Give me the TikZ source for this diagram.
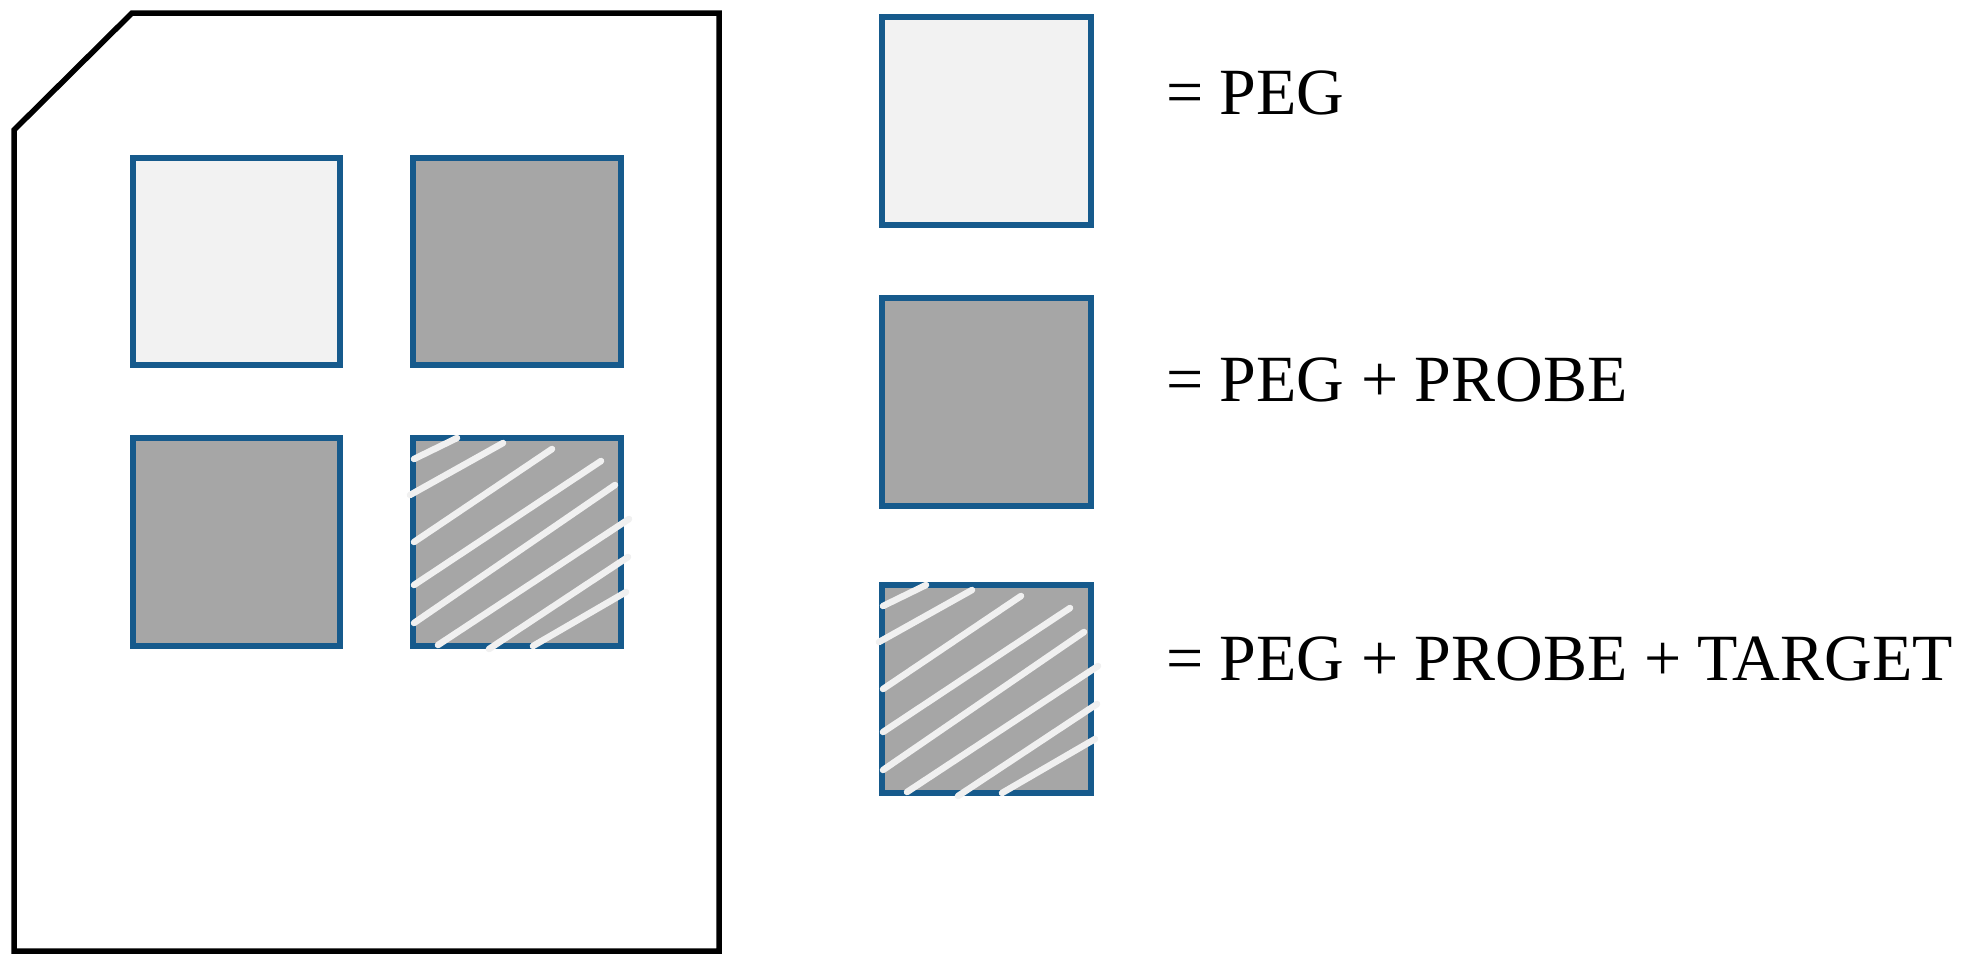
\documentclass[tikz,border=0pt]{standalone}
\usepackage{fontspec}
\setmainfont{Liberation Serif}
\definecolor{sqblue}{RGB}{22,90,140}
\definecolor{lightfill}{RGB}{242,242,242}
\definecolor{darkfill}{RGB}{166,166,166}
\definecolor{hatchcol}{RGB}{240,240,240}
\newcommand\myhatch[2]{%
  \begin{scope}[shift={(#1,#2)}]
    \draw[hatchline] (4,24)--(47,3);
    \draw[hatchline] (0,60)--(93,8);
    \draw[hatchline] (4,107)--(142,14);
    \draw[hatchline] (4,150)--(191,26);
    \draw[hatchline] (4,188)--(205,50);
    \draw[hatchline] (28,210)--(219,84);
    \draw[hatchline] (79,214)--(218,122);
    \draw[hatchline] (123,211)--(216,157);
  \end{scope}}
\begin{document}
\begin{tikzpicture}[x=1pt,y=-1pt,
  sq/.style={draw=sqblue, line width=6.5pt},
  lightsq/.style={sq, fill=lightfill},
  darksq/.style={sq, fill=darkfill},
  hatchline/.style={draw=hatchcol, line width=6.5pt, line cap=round},
  lbl/.style={anchor=base west, inner sep=0pt, font=\fontsize{66}{79}\selectfont}]
  \useasboundingbox[fill=white] (0,0) rectangle (1961,967);
  % slide outline
  \draw[black, line width=5.5pt, line join=miter] (14,130) -- (132,13) -- (719,13) -- (719,951) -- (14,951) -- cycle;
  % grid squares
  \draw[lightsq] (133,158) rectangle (340,365);
  \draw[darksq] (413,158) rectangle (621,365);
  \draw[darksq] (133,438) rectangle (340,646);
  \draw[darksq] (413,438) rectangle (621,646);
  \myhatch{410}{435}
  % legend squares
  \draw[lightsq] (882,17) rectangle (1091,225);
  \draw[darksq] (882,298) rectangle (1091,506);
  \draw[darksq] (882,585) rectangle (1091,793);
  \myhatch{879}{582}
  % labels
  \node[lbl] (l1) at (1166,114) {= PEG};
  \node[lbl] (l2) at (1166,401) {= PEG + PROBE};
  \node[lbl] (l3) at (1166,680) {= PEG + PROBE + TARGET};
\end{tikzpicture}
\end{document}
